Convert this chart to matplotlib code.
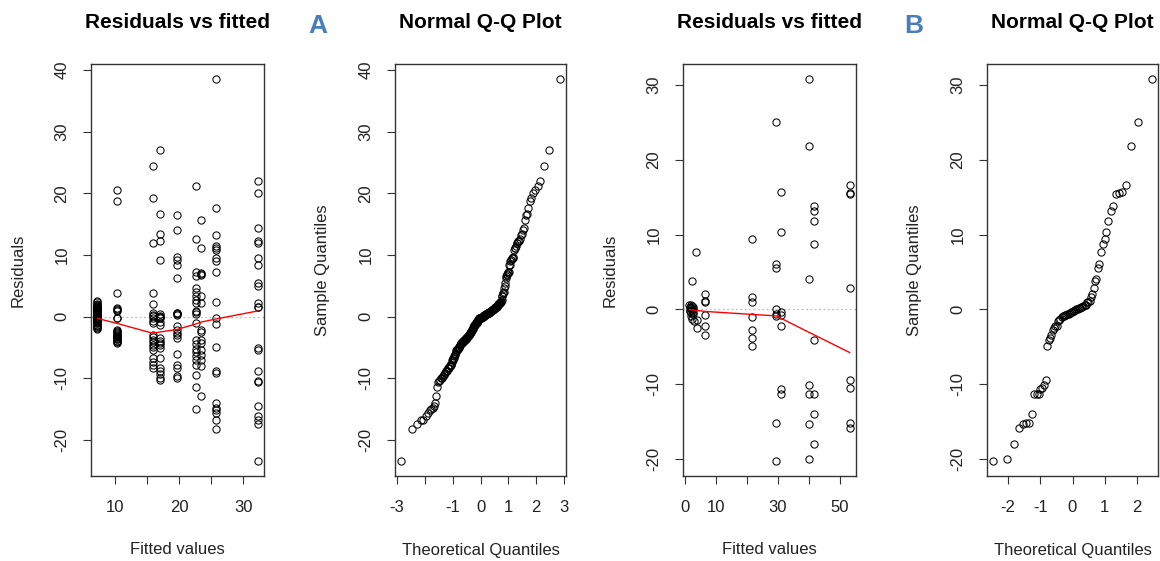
import matplotlib
matplotlib.use("Agg")
import matplotlib.pyplot as plt
from statistics import NormalDist

plt.rcParams['font.family'] = ['Liberation Sans', 'DejaVu Sans']

# ---------------- Data: model A ----------------
fitted_A = [7.2, 10.2, 15.8, 17.0, 19.6, 22.6, 23.4, 25.7, 32.2]
resid_A_g1 = [2.6, 2.3, 2.0, 1.9, 1.8, 1.7, 1.6, 1.5, 1.5, 1.4, 1.3, 1.2, 1.2, 1.1,
              1.0, 1.0, 0.9, 0.8, 0.8, 0.7, 0.6, 0.6, 0.5, 0.4, 0.4, 0.3, 0.2, 0.2,
              0.1, 0.0, 0.0, -0.1, -0.2, -0.2, -0.3, -0.4, -0.5, -0.6, -0.7, -0.8,
              -1.0, -1.1, -1.3, -1.4, -1.6, -1.7, -1.9, -2.0]
resid_A_g2 = [20.6, 18.7, 3.8, 1.4, 1.2, 1.0, 0.9, -0.2, -0.3, -2.2, -2.4, -2.5, -2.6,
              -2.8, -3.0, -3.1, -3.2, -3.4, -3.5, -3.6, -3.7, -3.9, -4.0, -4.1, -4.3]
resid_A_g3 = [24.4, 19.2, 11.9, 3.8, 2.1, 0.5, 0.3, 0.1, -0.2, -0.8, -1.0, -3.0, -3.4,
              -3.8, -4.2, -4.6, -5.0, -5.4, -6.8, -7.3, -7.9, -8.4]
resid_A_g4 = [27.1, 16.7, 13.4, 12.2, 9.2, 0.4, 0.1, 0.0, -0.1, -0.3, -0.9, -1.4, -3.5,
              -3.9, -4.3, -4.7, -5.1, -6.8, -8.4, -8.9, -9.4, -9.9, -10.3]
resid_A_g5 = [16.4, 14.0, 9.7, 9.2, 8.4, 6.2, 0.6, 0.5, 0.4, 0.3, -1.6, -2.2, -2.6,
              -3.0, -3.5, -6.0, -7.9, -8.4, -9.7, -10.0]
resid_A_g6 = [21.2, 12.6, 7.3, 6.5, 4.6, 4.0, 3.4, 2.7, 2.2, 0.9, 0.8, 0.4, -1.1, -3.8,
              -4.5, -5.2, -5.8, -6.4, -7.0, -7.9, -9.5, -11.4, -15.0]
resid_A_g7 = [15.6, 11.2, 7.0, 6.9, 6.8, 3.3, 2.2, -2.2, -2.5, -3.8, -4.3, -5.4, -6.2,
              -7.0, -8.1, -12.9]
resid_A_g8 = [38.5, 17.6, 13.3, 11.5, 11.2, 10.8, 9.5, 9.0, 7.3, 2.3, -0.3, -1.2, -5.0,
              -8.8, -9.1, -14.1, -14.9, -15.2, -15.6, -16.8, -18.3]
resid_A_g9 = [22.0, 20.1, 14.4, 12.2, 12.0, 9.5, 8.4, 5.4, 5.0, 2.2, 1.6, 1.5, -5.1,
              -5.5, -8.9, -10.5, -10.7, -14.5, -16.2, -16.8, -17.4, -23.4]
resid_A_groups = [resid_A_g1, resid_A_g2, resid_A_g3, resid_A_g4, resid_A_g5,
                  resid_A_g6, resid_A_g7, resid_A_g8, resid_A_g9]
smooth_A = [-0.3, -1.1, -2.7, -2.5, -2.1, -1.2, -0.9, -0.4, 0.9]

# ---------------- Data: model B ----------------
cluster_B_x = [1.5, 1.6, 1.6, 1.7, 1.8, 1.9, 2.0, 2.0, 2.1, 2.2, 2.3, 2.4, 2.5, 2.6,
               2.7, 2.8, 3.0, 2.25, 3.6, 3.9, 3.9]
cluster_B_y = [0.5, 0.3, -0.3, 0.1, -0.2, 0.6, -0.5, 0.2, -0.9, 0.4, -0.1, -1.3, 0.0,
               -0.4, 0.3, -0.7, -1.6, 3.8, 7.7, -1.4, -2.5]
fitted_B = [6.6, 21.8, 29.6, 31.0, 40.1, 41.6, 53.2]
resid_B_groups = [
    [2.1, 1.1, 0.9, -0.8, -2.3, -3.5],
    [9.4, 1.6, 1.0, -1.1, -2.8, -3.8, -4.9],
    [25.1, 6.0, 5.5, 0.0, -0.7, -0.9, -15.3, -20.3],
    [15.7, 10.4, -0.4, -0.8, -2.2, -10.7, -11.4],
    [30.8, 21.9, 4.0, -10.2, -11.3, -15.4, -20.1],
    [13.8, 13.1, 11.8, 8.7, -4.1, -11.3, -14.1, -18.0],
    [16.7, 15.6, 15.4, 2.8, -9.5, -10.5, -15.3, -15.9],
]
smooth_B_x = [1.5, 6.6, 21.8, 29.6, 31.0, 40.1, 41.6, 53.2]
smooth_B_y = [-0.05, -0.3, -0.7, -0.9, -1.2, -3.1, -3.4, -5.8]

# ---------------- assemble ----------------
xA, yA = [], []
for fx, grp in zip(fitted_A, resid_A_groups):
    xA += [fx] * len(grp)
    yA += grp
xB, yB = list(cluster_B_x), list(cluster_B_y)
for fx, grp in zip(fitted_B, resid_B_groups):
    xB += [fx] * len(grp)
    yB += grp


def qq(values):
    s = sorted(values)
    n = len(s)
    a = 0.5 if n > 10 else 3 / 8
    th = [NormalDist().inv_cdf((i + 1 - a) / (n + 1 - 2 * a)) for i in range(n)]
    return th, s


W, H = 1160, 561
fig = plt.figure(figsize=(W / 100, H / 100), dpi=100)
TOP, BOT = 64, 476


def px_axes(l, r):
    return fig.add_axes([l / W, 1 - BOT / H, (r - l) / W, (BOT - TOP) / H])


def style(ax, xticks, xlabels, yticks):
    for sp in ax.spines.values():
        sp.set_color('#333333')
        sp.set_linewidth(1.0)
    ax.set_xticks(xticks)
    ax.set_xticklabels(xlabels)
    ax.set_yticks(yticks)
    ax.set_yticklabels([str(t) for t in yticks], rotation=90, va='center')
    ax.tick_params(axis='both', length=5.5, width=0.8, color='#333333',
                   labelsize=12, labelcolor='#222222')
    ax.tick_params(axis='x', pad=12)
    ax.tick_params(axis='y', pad=10)
    ax.margins(x=0.04, y=0.04)


mk = dict(marker='o', linestyle='none', markersize=5.2, markerfacecolor='none',
          markeredgecolor='black', markeredgewidth=0.75)

panels = [(91, 264), (395, 566), (683, 856), (987, 1158)]

# Panel 1
ax1 = px_axes(*panels[0])
ax1.plot(xA, yA, **mk)
ax1.axhline(0, color='#BEBEBE', linestyle=(0, (1.5, 2)), linewidth=0.9, zorder=0)
ax1.plot(fitted_A, smooth_A, color='red', linewidth=1.0)
style(ax1, [10, 15, 20, 25, 30], ['10', '', '20', '', '30'],
      [-20, -10, 0, 10, 20, 30, 40])

# Panel 2
thA, sA = qq(yA)
ax2 = px_axes(*panels[1])
ax2.plot(thA, sA, **mk)
style(ax2, [-3, -2, -1, 0, 1, 2, 3], ['-3', '', '-1', '0', '1', '2', '3'],
      [-20, -10, 0, 10, 20, 30, 40])

# Panel 3
ax3 = px_axes(*panels[2])
ax3.plot(xB, yB, **mk)
ax3.axhline(0, color='#BEBEBE', linestyle=(0, (1.5, 2)), linewidth=0.9, zorder=0)
ax3.plot(smooth_B_x, smooth_B_y, color='red', linewidth=1.0)
style(ax3, [0, 10, 20, 30, 40, 50], ['0', '10', '', '30', '', '50'],
      [-20, -10, 0, 10, 20, 30])

# Panel 4
thB, sB = qq(yB)
ax4 = px_axes(*panels[3])
ax4.plot(thB, sB, **mk)
style(ax4, [-2, -1, 0, 1, 2], ['-2', '-1', '0', '1', '2'],
      [-20, -10, 0, 10, 20, 30])

titles = ['Residuals vs fitted', 'Normal Q-Q Plot', 'Residuals vs fitted', 'Normal Q-Q Plot']
xlabels = ['Fitted values', 'Theoretical Quantiles', 'Fitted values', 'Theoretical Quantiles']
ylabels = ['Residuals', 'Sample Quantiles', 'Residuals', 'Sample Quantiles']
for (l, r), t, xl, yl in zip(panels, titles, xlabels, ylabels):
    cx = (l + r) / 2
    fig.text(cx / W, 1 - 22 / H, t, ha='center', va='center', fontsize=15,
             fontweight='bold', color='black')
    fig.text(cx / W, 1 - 550 / H, xl, ha='center', va='center', fontsize=12,
             color='#222222')
    fig.text((l - 73) / W, 1 - (TOP + BOT) / 2 / H, yl, ha='center', va='center',
             fontsize=12, rotation=90, color='#222222')

for lab, x in [('A', 318), ('B', 914)]:
    fig.text(x / W, 1 - 26 / H, lab, ha='center', va='center', fontsize=19,
             fontweight='bold', color='#4A7EBB')

fig.savefig('out.png', dpi=100)
